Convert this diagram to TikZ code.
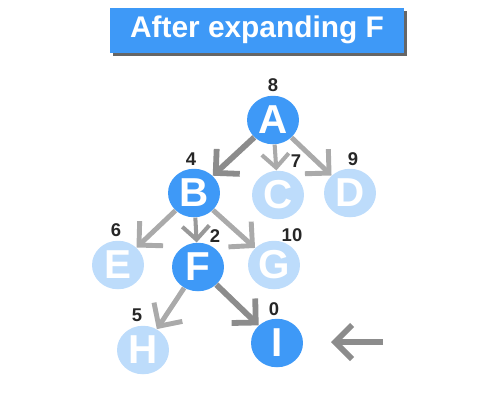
\documentclass[tikz,border=0pt]{standalone}
\usepackage{fontspec}
\setmainfont{Liberation Sans}
\usetikzlibrary{arrows.meta,shapes.geometric,shadows}
\definecolor{nodeblue}{HTML}{3E99F7}
\definecolor{nodepale}{HTML}{BDDCFB}
\definecolor{treegray}{HTML}{AAAAAA}
\definecolor{pathgray}{HTML}{8C8C8C}
\tikzset{
  vert/.style={ellipse, minimum width=1.04cm, minimum height=0.97cm, inner sep=0pt,
    text=white, font=\fontsize{23}{23}\selectfont\bfseries},
  expanded/.style={vert, fill=nodeblue},
  waiting/.style={vert, fill=nodepale},
  cost/.style={font=\fontsize{10.5}{10.5}\selectfont\bfseries, text=black!85, inner sep=0pt},
  treeedge/.style={draw=treegray, line width=2.8pt, -{Straight Barb[length=0.34cm,width=0.68cm]}},
  pathedge/.style={treeedge, draw=pathgray, line width=3.3pt},
  titlebox/.style={fill=nodeblue, text=white, minimum width=5.9cm, minimum height=0.9cm,
    font=\fontsize{17}{17}\selectfont\bfseries,
    drop shadow={shadow xshift=0.06cm, shadow yshift=-0.06cm, fill=black!75, opacity=0.8}},
}
\begin{document}
\begin{tikzpicture}[x=0.02cm, y=-0.02cm]
			\useasboundingbox (0,0) rectangle (500,400);
			
			%Title
			\node[titlebox] (title) at (257,30) {After expanding F};
			
			%Search tree
			\node[expanded] (A) at (273,120) {A};
			\node[expanded] (B) at (194,193) {B};
			\node[waiting] (C) at (278,195) {C};
			\node[waiting] (D) at (350,193) {D};
			\node[waiting] (E) at (118,265) {E};
			\node[expanded] (F) at (198,267) {F};
			\node[waiting] (G) at (274,265) {G};
			\node[waiting] (H) at (143,350) {H};
			\node[expanded] (I) at (277,343) {I};
			
			%Costs
			\node[cost] (cA) at (273,85) {8};
			\node[cost] (cB) at (191,159) {4};
			\node[cost] (cC) at (296,161) {7};
			\node[cost] (cD) at (353,159) {9};
			\node[cost] (cE) at (116,230) {6};
			\node[cost] (cF) at (215,236) {2};
			\node[cost] (cG) at (292,235) {10};
			\node[cost] (cH) at (137,315) {5};
			\node[cost] (cI) at (274,309) {0};
			
			%Edges
			\draw[pathedge] (A) -- (B);
			\draw[treeedge, line width=2.3pt, -{Straight Barb[length=0.27cm,width=0.54cm]}] (A) -- (C);
			\draw[treeedge] (A) -- (D);
			\draw[treeedge] (B) -- (E);
			\draw[treeedge, draw=black!40, line width=2.3pt, -{Straight Barb[length=0.27cm,width=0.54cm]}] (B) -- (F);
			\draw[treeedge] (B) -- (G);
			\draw[treeedge] (F) -- (H);
			\draw[pathedge] (F) -- (I);
			
			%Pointer
			\coordinate (ptrtail) at (383,342);
			\coordinate (ptrhead) at (331,342);
			\draw[pathedge, line width=3.3pt] (ptrtail) -- (ptrhead);
		\end{tikzpicture}
\end{document}
